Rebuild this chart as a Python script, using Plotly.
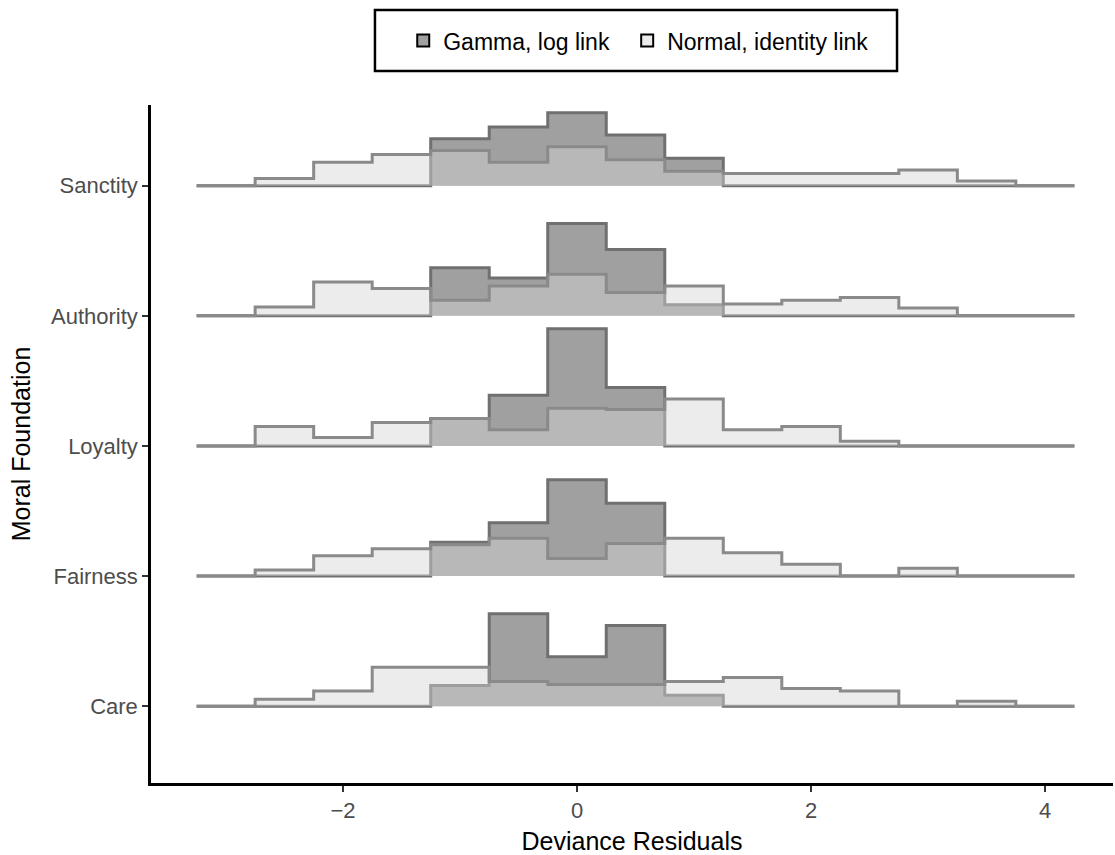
import numpy as np
import plotly.graph_objects as go

# Histogram bins (width 0.5), centres from -3 to 4
bin_centers = [-3.0, -2.5, -2.0, -1.5, -1.0, -0.5, 0.0, 0.5, 1.0, 1.5, 2.0, 2.5, 3.0, 3.5, 4.0]
bin_width = 0.5

foundations = ["Care", "Fairness", "Loyalty", "Authority", "Sanctity"]

# Scaled bin heights per foundation
gamma_care = [0, 0, 0, 0, 0.16, 0.71, 0.38, 0.62, 0.085, 0, 0, 0, 0, 0, 0]
normal_care = [0, 0.054, 0.117, 0.30, 0.30, 0.19, 0.167, 0.167, 0.19, 0.22, 0.136, 0.117, 0, 0.038, 0]

gamma_fairness = [0, 0, 0, 0, 0.26, 0.41, 0.74, 0.56, 0, 0, 0, 0, 0, 0, 0]
normal_fairness = [0, 0.046, 0.156, 0.21, 0.24, 0.29, 0.136, 0.25, 0.29, 0.18, 0.09, 0, 0.06, 0, 0]

gamma_loyalty = [0, 0, 0, 0, 0.21, 0.39, 0.90, 0.45, 0, 0, 0, 0, 0, 0, 0]
normal_loyalty = [0, 0.15, 0.064, 0.18, 0.21, 0.125, 0.29, 0.28, 0.36, 0.125, 0.15, 0.036, 0, 0, 0]

gamma_authority = [0, 0, 0, 0, 0.37, 0.29, 0.71, 0.51, 0.085, 0, 0, 0, 0, 0, 0]
normal_authority = [0, 0.067, 0.26, 0.21, 0.12, 0.23, 0.32, 0.18, 0.23, 0.09, 0.12, 0.14, 0.06, 0, 0]

gamma_sanctity = [0, 0, 0, 0, 0.36, 0.45, 0.56, 0.39, 0.21, 0, 0, 0, 0, 0, 0]
normal_sanctity = [0, 0.056, 0.18, 0.24, 0.27, 0.18, 0.30, 0.20, 0.11, 0.094, 0.094, 0.094, 0.12, 0.036, 0]

gamma_heights = [gamma_care, gamma_fairness, gamma_loyalty, gamma_authority, gamma_sanctity]
normal_heights = [normal_care, normal_fairness, normal_loyalty, normal_authority, normal_sanctity]

x_ticks = [-2, 0, 2, 4]

GAMMA_FILL = "#a0a0a0"
GAMMA_LINE = "#707070"
NORMAL_FILL = "rgba(214,214,214,0.46)"
NORMAL_LINE = "#8a8a8a"


def step_path(centers, heights, base):
    """Outline of a binned histogram sitting on a ridge baseline."""
    xs, ys = [], []
    for c, h in zip(centers, heights):
        left, right = c - bin_width / 2, c + bin_width / 2
        xs += [left, right]
        ys += [base + h, base + h]
    return xs, ys


fig = go.Figure()

# Draw from the top ridge down so lower ridges sit in front
for i in reversed(range(len(foundations))):
    base = i + 1
    for heights, fill, line in (
        (gamma_heights[i], GAMMA_FILL, GAMMA_LINE),
        (normal_heights[i], NORMAL_FILL, NORMAL_LINE),
    ):
        xs, ys = step_path(bin_centers, heights, base)
        # filled polygon closed along the baseline
        fig.add_trace(go.Scatter(
            x=xs + [xs[-1], xs[0]], y=ys + [base, base],
            mode="lines", fill="toself", fillcolor=fill,
            line=dict(width=0), hoverinfo="skip", showlegend=False,
        ))
        # outline on top
        fig.add_trace(go.Scatter(
            x=xs, y=ys, mode="lines",
            line=dict(color=line, width=3),
            hoverinfo="skip", showlegend=False,
        ))

# Legend entries (non-breaking spaces pad the gap between the two keys)
fig.add_trace(go.Bar(x=[None], y=[None], name="Gamma, log link\u00a0\u00a0",
                     marker=dict(color=GAMMA_FILL, line=dict(color="black", width=3))))
fig.add_trace(go.Bar(x=[None], y=[None], name="Normal, identity link",
                     marker=dict(color="#ececec", line=dict(color="black", width=3))))

# Frame around the legend
fig.add_shape(type="rect", xref="paper", yref="paper",
              x0=0.2328, x1=0.7755, y0=1.050, y1=1.140,
              line=dict(color="black", width=2.5), fillcolor="rgba(0,0,0,0)")

fig.update_layout(
    width=1115, height=855,
    margin=dict(l=151, r=2, t=105, b=72),
    plot_bgcolor="white", paper_bgcolor="white",
    font=dict(family="Liberation Sans, Arial, sans-serif", color="black"),
    showlegend=True,
    legend=dict(
        orientation="h", x=0.507, xanchor="center",
        y=1.095, yanchor="middle",
        borderwidth=0, bgcolor="rgba(0,0,0,0)",
        font=dict(size=23, color="black"),
        itemsizing="constant",
    ),
    xaxis=dict(
        range=[-3.64, 4.58], tickvals=x_ticks,
        ticktext=["\u22122", "0", "2", "4"],
        showgrid=False, zeroline=False,
        showline=True, linecolor="black", linewidth=2.5,
        ticks="outside", ticklen=6, tickwidth=2, tickcolor="#333333",
        tickfont=dict(size=22, color="#4d4d4d"),
        title=dict(text="Deviance Residuals", font=dict(size=25, color="black"), standoff=12),
    ),
    yaxis=dict(
        range=[0.41, 5.62], tickvals=[1, 2, 3, 4, 5], ticktext=foundations,
        showgrid=False, zeroline=False,
        showline=True, linecolor="black", linewidth=2.5,
        ticks="outside", ticklen=6, tickwidth=2, tickcolor="#333333",
        tickfont=dict(size=22, color="#4d4d4d"),
        title=dict(text="Moral Foundation", font=dict(size=25, color="black"), standoff=14),
    ),
    barmode="overlay",
)

fig.write_html("out.html")
